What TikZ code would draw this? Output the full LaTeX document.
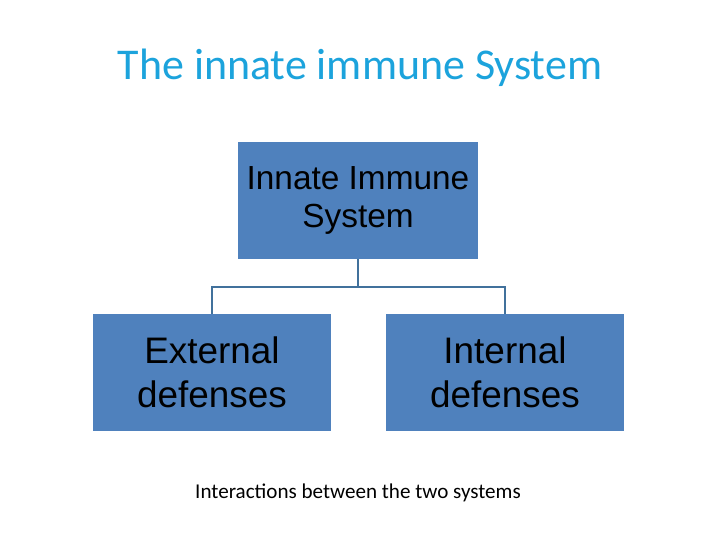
\documentclass[tikz,border=0pt]{standalone}
\usepackage{fontspec}
\setmainfont{Liberation Sans}
\newfontfamily\calib{Carlito}
\usetikzlibrary{positioning}
\definecolor{boxblue}{HTML}{4F81BD}
\definecolor{linkblue}{HTML}{41719C}
\definecolor{titleblue}{HTML}{1CA3DC}

\begin{document}
\begin{tikzpicture}
	\useasboundingbox (0,0) rectangle (14.4,10.8);
	\begin{scope}[every node/.style = {fill=boxblue, minimum height=2.34cm,
		align=center, font=\fontsize{19}{22}\selectfont}]
		\node[minimum width=4.8cm] (top) at (7.16,6.79) {Innate Immune\\System};
		\node[minimum width=4.76cm, font=\fontsize{21}{25}\selectfont] (ext) at (4.24,3.35) {External\\defenses};
		\node[minimum width=4.76cm, font=\fontsize{21}{25}\selectfont] (int) at (10.1,3.35) {Internal\\defenses};
	\end{scope}
	\node[text=titleblue, font=\calib\fontsize{25}{30}\selectfont] (title) at (7.2,9.44) {The innate immune System};
	\node[font=\calib\fontsize{12}{14}\selectfont] (note) at (7.16,0.94) {Interactions between the two systems};
	\begin{scope}[draw=linkblue, line width=1.5pt]
		\coordinate (bar) at (7.16,5.06);
		\draw[linkblue, line width=1.5pt] (top.south) -- (bar);
		\draw[linkblue, line width=1.5pt] (ext.north) |- (bar) -| (int.north);
	\end{scope}
\end{tikzpicture}
\end{document}
